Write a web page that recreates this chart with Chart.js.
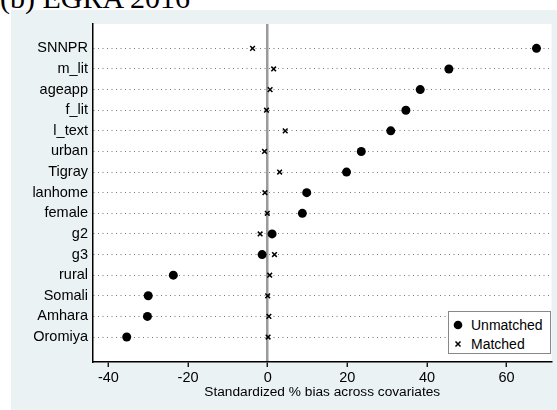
<!DOCTYPE html>
<html>
<head>
<meta charset="utf-8">
<script src="https://cdn.jsdelivr.net/npm/chart.js@4"></script>
<style>
  body { margin: 0; width: 557px; height: 410px; overflow: hidden; position: relative; background: #fff; font-family: "Liberation Sans", Arial, sans-serif; }
  #panel { position: absolute; left: 11px; top: 10px; width: 546px; height: 400px; background: #eaf2f3; }
  #title { position: absolute; left: 0; top: -17px; font: 30px/30px "Liberation Serif", "Times New Roman", serif; color: #000; white-space: nowrap; }
  #wrap { position: absolute; left: 0; top: 0; width: 557px; height: 410px; }
  #legend { position: absolute; left: 448px; top: 311px; width: 103px; height: 43px; box-sizing: border-box; border: 1px solid #888; background: #fff; font-size: 14px; color: #000; }
  .row { position: absolute; left: 0; height: 18px; line-height: 18px; }
  .row svg { position: absolute; left: 4px; top: 4px; }
  .row span { position: absolute; left: 22px; white-space: nowrap; }
</style>
</head>
<body>
<div id="panel"></div>
<div id="title">(b) EGRA 2016</div>
<div id="wrap"><canvas id="biasChart" width="557" height="410"></canvas></div>
<div id="legend">
  <div class="row" style="top:4px"><svg width="10" height="10"><circle cx="5" cy="5" r="4.3" fill="#000"/></svg><span>Unmatched</span></div>
  <div class="row" style="top:23px"><svg width="10" height="10"><path d="M2.5 2.5L7.5 7.5M7.5 2.5L2.5 7.5" stroke="#000" stroke-width="1.5"/></svg><span>Matched</span></div>
</div>
<script>
const categories = ["SNNPR", "m_lit", "ageapp", "f_lit", "l_text", "urban", "Tigray", "lanhome", "female", "g2", "g3", "rural", "Somali", "Amhara", "Oromiya"];
const unmatched = [67.5, 45.5, 38.3, 34.7, 30.9, 23.5, 19.8, 9.8, 8.7, 1.1, -1.4, -23.7, -30.0, -30.2, -35.4];
const matched = [-3.8, 1.5, 0.6, -0.3, 4.4, -0.8, 3.0, -0.7, -0.1, -1.9, 1.7, 0.5, 0.0, 0.3, 0.1];
const xTicks = [-40, -20, 0, 20, 40, 60];

const toPoints = (vals) => vals.map((v, i) => ({ x: v, y: i }));

const plotBackground = {
  id: "plotBackground",
  beforeDraw(chart) {
    const { ctx, chartArea } = chart;
    ctx.save();
    ctx.fillStyle = "#fff";
    ctx.fillRect(chartArea.left, chartArea.top, chartArea.right - chartArea.left, chartArea.bottom - chartArea.top);
    ctx.restore();
  },
};

new Chart(document.getElementById("biasChart"), {
  type: "scatter",
  data: {
    datasets: [
      {
        label: "Unmatched",
        data: toPoints(unmatched),
        pointStyle: "circle",
        pointRadius: 4.5,
        backgroundColor: "#000",
        borderColor: "#000",
        borderWidth: 0,
      },
      {
        label: "Matched",
        data: toPoints(matched),
        pointStyle: "crossRot",
        pointRadius: 3.3,
        borderColor: "#000",
        borderWidth: 1.5,
      },
    ],
  },
  options: {
    responsive: false,
    animation: false,
    layout: { padding: { left: 0, right: 0, top: 24, bottom: 0 } },
    plugins: { legend: { display: false }, tooltip: { enabled: false } },
    scales: {
      x: {
        type: "linear",
        min: -43.87,
        max: 71.27,
        afterBuildTicks: (scale) => { scale.ticks = xTicks.map((v) => ({ value: v })); },
        afterFit: (scale) => { scale.height = 48; },
        grid: {
          color: (c) => (c.tick && c.tick.value === 0 ? "#9a9a9a" : "rgba(0,0,0,0)"),
          lineWidth: 2.5,
          drawTicks: true,
          tickLength: 5,
          tickColor: "#000",
          tickWidth: 1.3,
        },
        border: { color: "#000", width: 1.5 },
        ticks: { color: "#000", font: { family: "Liberation Sans", size: 14.5 }, padding: 2 },
        title: {
          display: true,
          text: "Standardized % bias across covariates",
          color: "#000",
          font: { family: "Liberation Sans", size: 13.7 },
          padding: { top: 0, bottom: 9.5 },
        },
      },
      y: {
        type: "linear",
        reverse: true,
        min: -1.18,
        max: 15.21,
        afterBuildTicks: (scale) => { scale.ticks = categories.map((_, i) => ({ value: i })); },
        afterFit: (scale) => { scale.width = 93; },
        grid: { color: "#777", lineWidth: 1, drawTicks: false },
        border: { color: "#000", width: 1.5, dash: [1, 3.5] },
        ticks: {
          color: "#000",
          font: { family: "Liberation Sans", size: 14.5 },
          padding: 5,
          callback: (v) => categories[v],
        },
      },
    },
  },
  plugins: [plotBackground],
});
</script>
</body>
</html>
